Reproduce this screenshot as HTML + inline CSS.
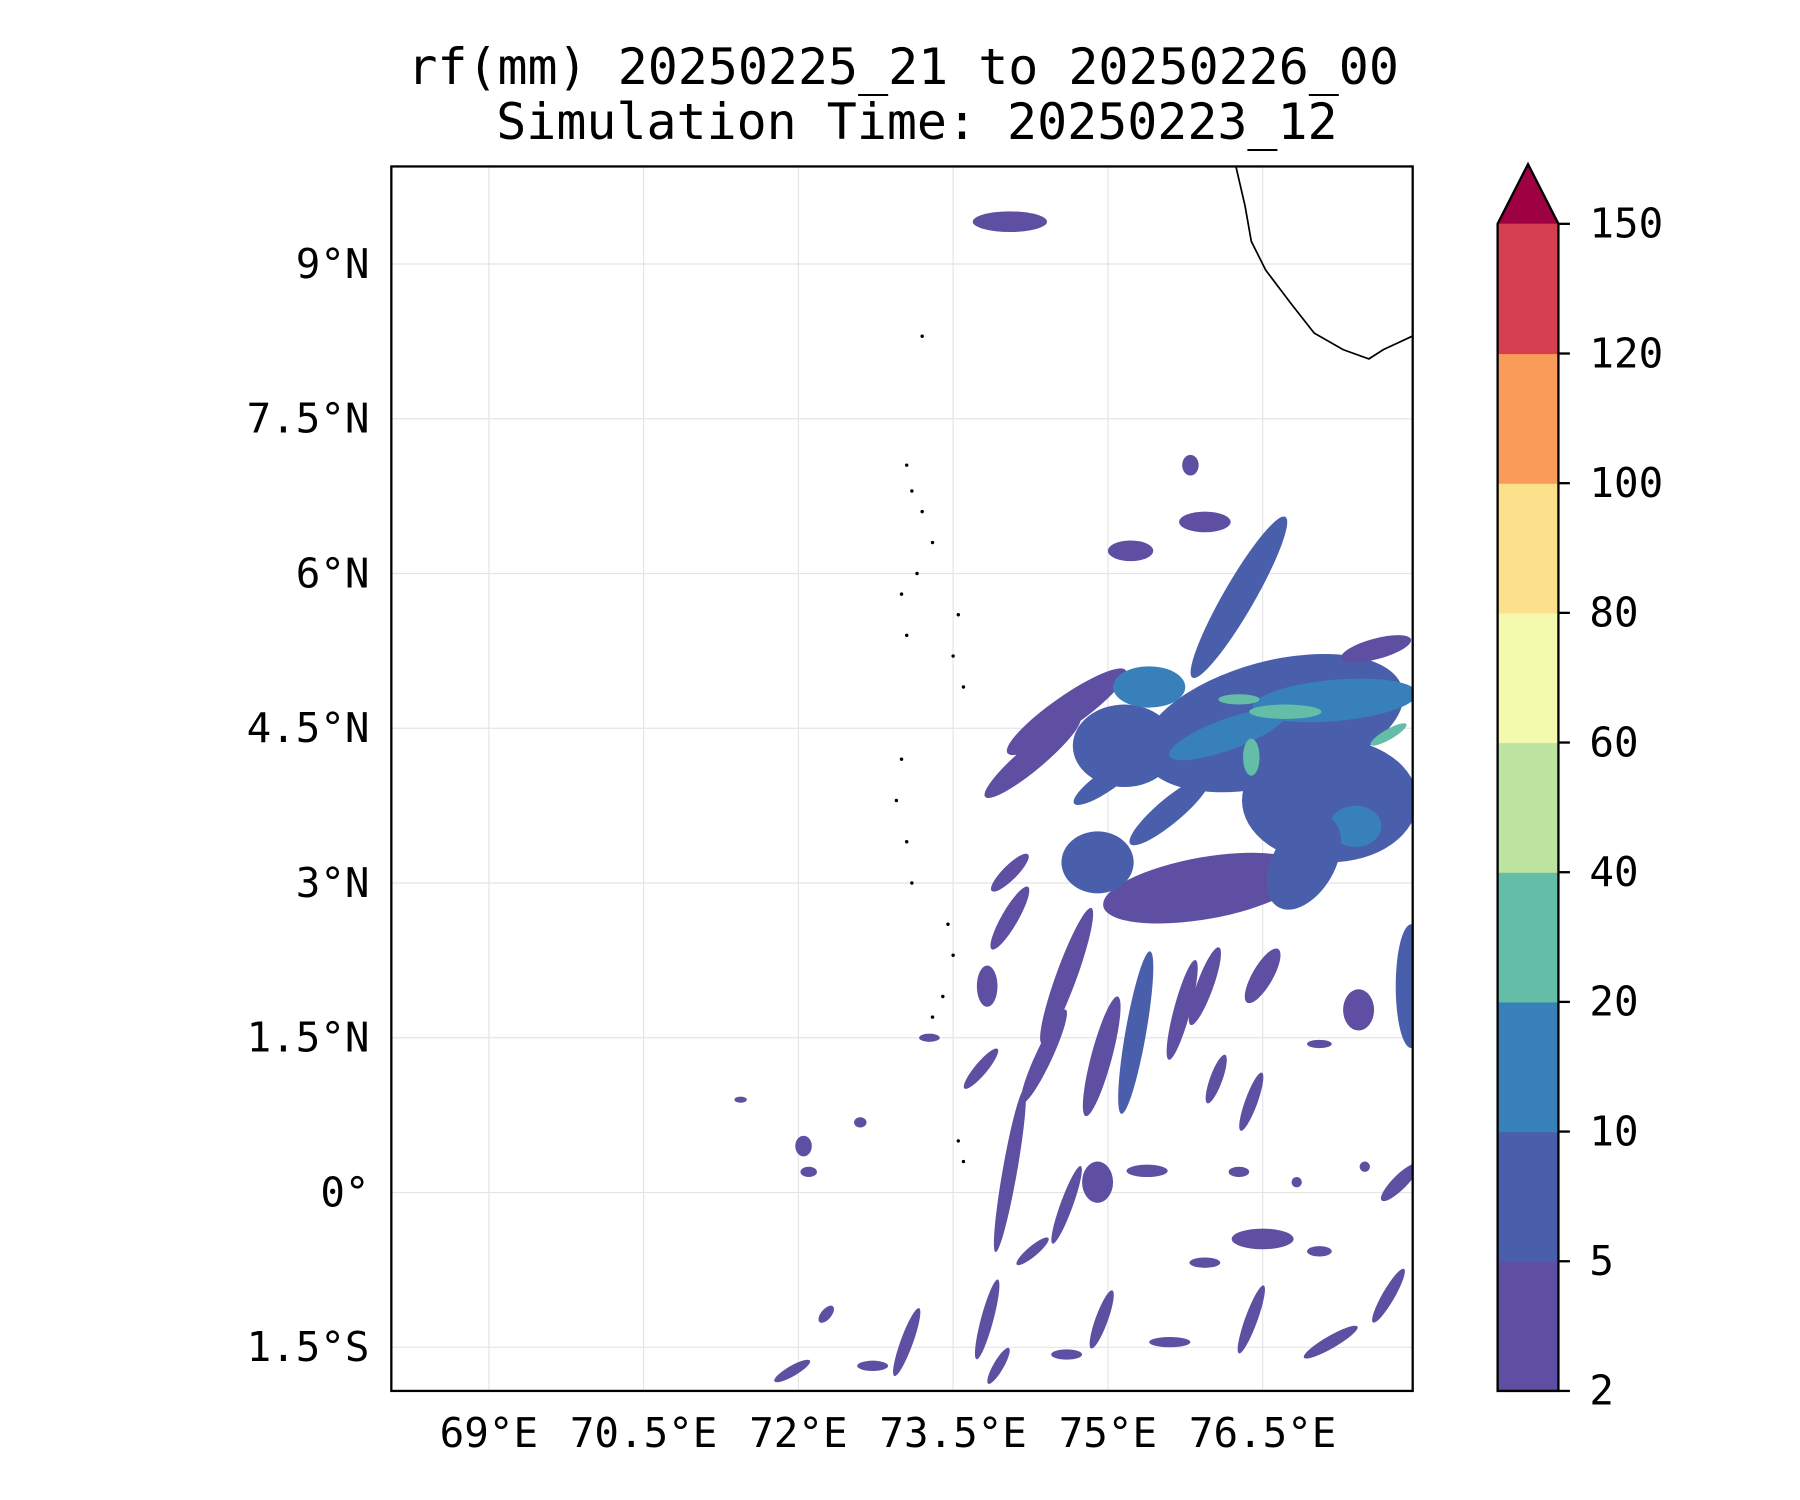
<!DOCTYPE html>
<html><head><meta charset="utf-8"><style>body{margin:0;background:#fff}svg{display:block}text{font-family:"DejaVu Sans Mono","Liberation Mono",monospace;fill:#000}</style></head>
<body>
<svg id="chart" width="1800" height="1500" viewBox="0 0 1568.5 1307" xmlns="http://www.w3.org/2000/svg">
<text x="787" y="73" font-size="43.5" text-anchor="middle">rf(mm) 20250225_21 to 20250226_00</text>
<text x="799" y="121" font-size="43.5" text-anchor="middle">Simulation Time: 20250223_12</text>
<defs><clipPath id="ax"><rect x="341" y="145" width="890" height="1067"/></clipPath></defs>
<g id="grid"></g>
<g id="rain" clip-path="url(#ax)"></g>
<g id="coast" clip-path="url(#ax)"></g>
<rect x="341" y="145" width="890" height="1067" fill="none" stroke="#000" stroke-width="2"/>
<g id="ticks"></g>
<g id="cbar"></g>
</svg>
<script>
const lonTicks=[69,70.5,72,73.5,75,76.5];
const lonLabels=["69°E","70.5°E","72°E","73.5°E","75°E","76.5°E"];
const latTicks=[9,7.5,6,4.5,3,1.5,0,-1.5];
const latLabels=["9°N","7.5°N","6°N","4.5°N","3°N","1.5°N","0°","1.5°S"];
const cbLevels=[2,5,10,20,40,60,80,100,120,150];
const cbColors=["#5e4fa2","#4a5fab","#3880b9","#63bda7","#bde3a0","#f3f9ad","#fde08b","#f99b59","#d53f4f"];
const extendColor="#9e0142";
// blobs: lon, lat, rx(deg), ry(deg), angle(deg), level index
const blobLon=[74.05,76.6,77.15,75.16,74.6,74.27,76.27,77.6,75.94,75.22,75.8,75.94,74.9,74.05,74.05,74.6,74.94,75.27,75.72,75.94,76.5,76.39,77.94,77.43,74.38,73.77,73.83,74.05,74.6,74.9,75.38,76.5,77.83,77.72,77.16,76.39,74.94,73.83,73.05,72.72,71.94,72.27,75.6,75.94,77.05,74.27,73.94,74.6,72.05,72.1,71.44,72.6,73.27,77.05,77.49,76.83,76.27,76.05,77.2,76.16,75.4,77.4,76.72,76.39,77.72,76.27,75.6,76.9,75.0];
const blobLat=[9.41,4.55,3.8,4.33,4.66,4.22,5.77,5.27,6.5,6.22,7.05,2.95,3.2,2.66,3.1,2.1,1.32,1.55,1.77,2.0,2.1,0.88,2.0,1.77,1.32,1.2,2.0,0.21,-0.12,0.1,0.21,-0.45,0.1,-1.0,-1.45,-1.23,-1.23,-1.23,-1.45,-1.68,-1.73,-1.18,-1.45,-0.68,-0.57,-0.57,-1.68,-1.57,0.45,0.2,0.9,0.68,1.5,1.44,0.25,0.1,0.2,1.1,4.77,4.44,4.9,3.55,4.66,4.22,4.44,4.78,3.7,3.2,4.0];
const blobRx=[0.36,1.3,0.85,0.5,0.7,0.6,0.9,0.35,0.25,0.22,0.08,1.0,0.35,0.35,0.25,0.7,0.6,0.8,0.5,0.4,0.3,0.3,0.15,0.15,0.5,0.25,0.1,0.8,0.4,0.15,0.2,0.3,0.25,0.3,0.3,0.35,0.3,0.4,0.35,0.15,0.2,0.1,0.2,0.15,0.12,0.2,0.2,0.15,0.08,0.08,0.06,0.06,0.1,0.12,0.05,0.05,0.1,0.25,0.8,0.6,0.35,0.25,0.35,0.08,0.2,0.2,0.5,0.5,0.4];
const blobRy=[0.1,0.6,0.6,0.4,0.15,0.12,0.15,0.1,0.1,0.1,0.1,0.3,0.3,0.08,0.07,0.1,0.1,0.1,0.08,0.08,0.1,0.06,0.6,0.2,0.08,0.06,0.2,0.07,0.06,0.2,0.06,0.1,0.07,0.06,0.06,0.06,0.06,0.06,0.06,0.05,0.05,0.05,0.05,0.05,0.05,0.05,0.05,0.05,0.1,0.05,0.03,0.05,0.04,0.04,0.05,0.05,0.05,0.06,0.2,0.15,0.2,0.2,0.07,0.18,0.05,0.05,0.12,0.3,0.1];
const blobAng=[0,-15,0,0,-35,-40,-60,-15,0,0,0,-10,0,-60,-45,-70,-75,-80,-75,-70,-60,-70,0,0,-65,-50,0,-80,-70,0,0,0,-45,-60,-30,-70,-70,-75,-70,0,-30,-50,0,0,0,-40,-60,0,0,0,0,0,0,0,0,0,0,-70,-5,-20,0,0,0,0,-30,0,-40,-60,-35];
const blobLvl=[0,1,1,1,0,0,1,0,0,0,0,0,1,0,0,0,0,1,0,0,0,0,1,0,0,0,0,0,0,0,0,0,0,0,0,0,0,0,0,0,0,0,0,0,0,0,0,0,0,0,0,0,0,0,0,0,0,0,2,2,2,2,3,3,3,3,1,1,1];
const coastLon=[76.24,76.33,76.39,76.53,76.78,77.0,77.28,77.53,77.67,77.95];
const coastLat=[9.95,9.56,9.22,8.94,8.61,8.33,8.17,8.08,8.17,8.3];
const dotLon=[73.05,73.1,73.2,73.3,73.15,73.0,73.05,73.55,73.5,73.6,73.0,72.95,73.05,73.1,73.45,73.5,73.4,73.3,73.55,73.6,73.2];
const dotLat=[7.05,6.8,6.6,6.3,6.0,5.8,5.4,5.6,5.2,4.9,4.2,3.8,3.4,3.0,2.6,2.3,1.9,1.7,0.5,0.3,8.3];

const PX=89.9;
function x(lon){return 426+(lon-69)*PX;}
function y(lat){return 230-(lat-9)*PX;}
const NS="http://www.w3.org/2000/svg";
function mk(tag,attrs,parent){const e=document.createElementNS(NS,tag);for(const k in attrs)e.setAttribute(k,attrs[k]);parent.appendChild(e);return e;}
const grid=document.getElementById('grid'),ticks=document.getElementById('ticks');
lonTicks.forEach((v,i)=>{
  const l=mk('line',{x1:x(v),x2:x(v),y1:145,y2:1212,stroke:'#e4e4e4','stroke-width':1},grid);
  
  
  const t=mk('text',{x:x(v),y:1261,'font-size':35.6,'text-anchor':'middle'},ticks);t.textContent=lonLabels[i];
  
  
});
latTicks.forEach((v,i)=>{
  const l=mk('line',{x1:341,x2:1231,y1:y(v),y2:y(v),stroke:'#e4e4e4','stroke-width':1},grid);
  
  
  const t=mk('text',{x:322,y:y(v)+12,'font-size':35.6,'text-anchor':'end'},ticks);t.textContent=latLabels[i];
  
  
});
const rain=document.getElementById('rain');
for(let i=0;i<blobLon.length;i++){
  const e=mk('ellipse',{cx:x(blobLon[i]),cy:y(blobLat[i]),rx:blobRx[i]*PX,ry:blobRy[i]*PX,fill:cbColors[blobLvl[i]],transform:`rotate(${blobAng[i]} ${x(blobLon[i])} ${y(blobLat[i])})`},rain);
  
  
}
const coast=document.getElementById('coast');
const cp=mk('polyline',{points:coastLon.map((v,i)=>x(v)+','+y(coastLat[i])).join(' '),fill:'none',stroke:'#000','stroke-width':1.5},coast);


dotLon.forEach((v,i)=>{
  const d=mk('circle',{cx:x(v),cy:y(dotLat[i]),r:1.5,fill:'#000'},coast);
  
  
});
const cb=document.getElementById('cbar');
const cbL=1305,cbW=53,cbTop=195,cbBot=1212,nb=cbColors.length,bh=(cbBot-cbTop)/nb;
cbColors.forEach((c,i)=>{
  const r=mk('rect',{x:cbL,y:cbBot-(i+1)*bh,width:cbW,height:bh+0.5,fill:c},cb);
  
  
});
const tri=mk('polygon',{points:`${cbL},${cbTop} ${cbL+cbW/2},143 ${cbL+cbW},${cbTop}`,fill:extendColor},cb);


const outl=mk('polygon',{points:`${cbL},${cbBot} ${cbL},${cbTop} ${cbL+cbW/2},143 ${cbL+cbW},${cbTop} ${cbL+cbW},${cbBot}`,fill:'none',stroke:'#000','stroke-width':2},cb);


cbLevels.forEach((v,i)=>{
  const yy=cbBot-i*bh;
  const tk=mk('line',{x1:cbL+cbW,x2:cbL+cbW+10,y1:yy,y2:yy,stroke:'#000','stroke-width':2},cb);
  
  
  const t=mk('text',{x:1385,y:yy+12,'font-size':35.6},cb);t.textContent=v;
  
  
});
</script>
</body></html>
